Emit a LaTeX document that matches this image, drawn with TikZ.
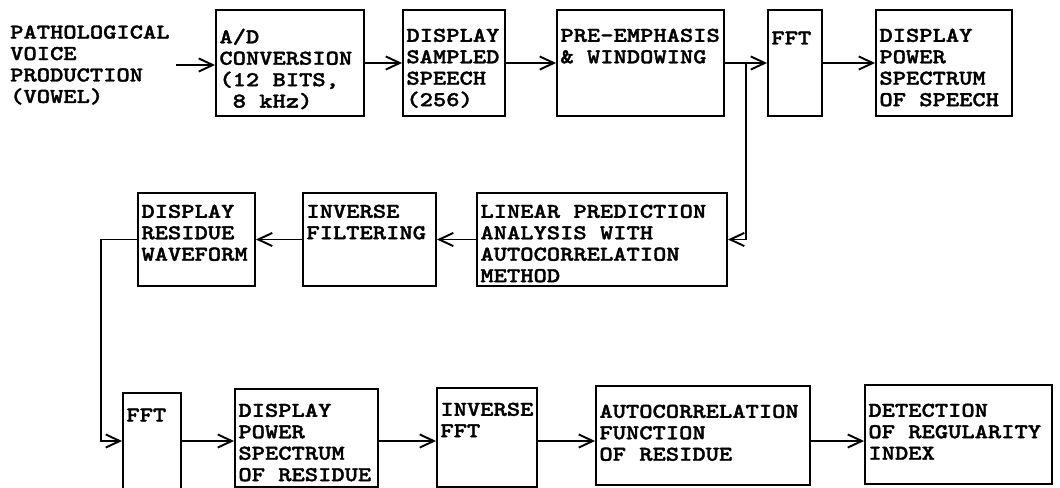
\documentclass[tikz,border=0pt]{standalone}
\usepackage{fontspec}
\setmainfont{lmmonolt10-bold.otf}[FakeStretch=1.2, FakeBold=1.6]
\usepackage{tikz}
\usetikzlibrary{arrows.meta, fit}

\begin{document}
\begin{tikzpicture}[x=0.02cm, y=-0.02cm,
        font=\fontsize{12pt}{12.2pt}\selectfont,
        blk/.style={draw, line width=1.1pt, inner sep=0pt},
        txt/.style={anchor=north west, align=left, inner xsep=2.3pt, inner ysep=7pt,
            execute at begin node={\rule{0pt}{9pt}}},
        arr/.style={-{Straight Barb[length=8pt, width=7.5pt]}, line width=1.1pt}]
        \useasboundingbox (0,0) rectangle (1060,487);
        \clip (0,0) rectangle (1060,487);
        \node[align=left, anchor=west] (src) at (4,65) {PATHOLOGICAL\\VOICE\\PRODUCTION\\(VOWEL)};
        % boxes: name / corners / text drop / text
        \foreach \nm/\xa/\ya/\xb/\yb/\dy/\txt in {
            ad/216/10/364/116/7/{A/D\\CONVERSION\\(12 BITS,\\\hphantom{(}8 kHz)},
            ds/403/10/505/116/7/{DISPLAY\\SAMPLED\\SPEECH\\(256)},
            pe/557/10/724/116/7/{PRE-EMPHASIS\\\& WINDOWING},
            fft/768/10/822/116/7/{FFT},
            dps/876/10/1012/116/7/{DISPLAY\\POWER\\SPECTRUM\\OF SPEECH},
            drw/138/193/255/286/0/{DISPLAY\\RESIDUE\\WAVEFORM},
            inf/303/193/436/286/0/{INVERSE\\FILTERING},
            lp/477/193/727/286/0/{LINEAR PREDICTION\\ANALYSIS WITH\\AUTOCORRELATION\\METHOD},
            rfft/123/393/181/489/1/{FFT},
            dpr/235/389/378/487/3/{DISPLAY\\POWER\\SPECTRUM\\OF RESIDUE},
            ifft/437/388/537/487/3/{INVERSE\\FFT},
            acf/596/386/810/485/7/{AUTOCORRELATION\\FUNCTION\\OF RESIDUE},
            det/865/385/1052/484/7/{DETECTION\\OF REGULARITY\\INDEX}}
        {
            \node[blk, fit={(\xa,\ya) (\xb,\yb)},
                label={[txt, yshift={-\dy*0.02cm}, name=\nm-t]north west:{\txt}}] (\nm) {};
        }
        % speech path
        \coordinate (br) at (746,63);
        \coordinate (r3) at (0,441);
        \draw[arr] (src.east) -- (src.east -| ad.west);
        \draw[arr] (ad) -- (ds);
        \draw[arr] (ds) -- (pe);
        \draw[arr] (pe) -- (fft);
        \draw[arr] (fft) -- (dps);
        \draw[arr] (br) |- (lp.east);
        % residue path
        \draw[arr] (lp) -- (inf);
        \draw[arr] (inf) -- (drw);
        \draw[arr] (drw.west) -- ++(-36,0) |- (rfft.west |- r3);
        \draw[arr] (rfft.east |- r3) -- (dpr.west |- r3);
        \draw[arr] (dpr.east |- r3) -- (ifft.west |- r3);
        \draw[arr] (ifft.east |- r3) -- (acf.west |- r3);
        \draw[arr] (acf.east |- r3) -- (det.west |- r3);
    \end{tikzpicture}
\end{document}
